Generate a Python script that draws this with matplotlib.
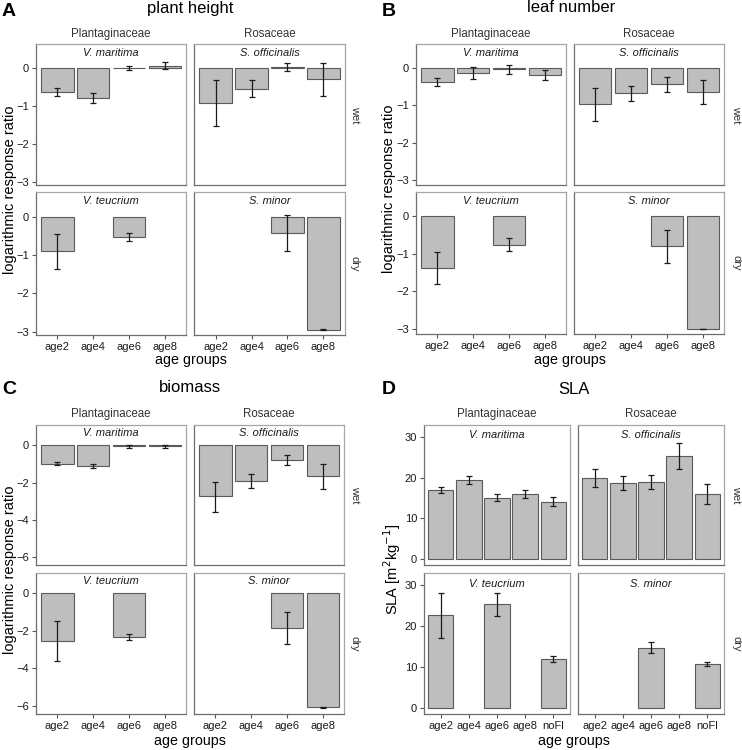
import matplotlib.pyplot as plt
import numpy as np

plt.rcParams["font.family"] = ["Liberation Sans", "DejaVu Sans"]

W, H = 742, 750
nan = np.nan

ages4 = ["age2", "age4", "age6", "age8"]
ages5 = ["age2", "age4", "age6", "age8", "noFl"]
families = ["Plantaginaceae", "Rosaceae"]
conditions = ["wet", "dry"]
# facet order: wet/Plantaginaceae, wet/Rosaceae, dry/Plantaginaceae, dry/Rosaceae
species = ["V. maritima", "S. officinalis", "V. teucrium", "S. minor"]

# plant height (log response ratio): mean, lower, upper
height_mean = [[-0.63, -0.79, 0.01, 0.07], [-0.93, -0.54, 0.03, -0.29],
               [-0.89, nan, -0.53, nan], [nan, nan, -0.42, -2.95]]
height_lo = [[-0.73, -0.93, -0.05, -0.03], [-1.54, -0.76, -0.07, -0.74],
             [-1.36, nan, -0.63, nan], [nan, nan, -0.91, -2.96]]
height_hi = [[-0.53, -0.65, 0.07, 0.17], [-0.32, -0.32, 0.13, 0.15],
             [-0.45, nan, -0.43, nan], [nan, nan, 0.05, -2.94]]

# leaf number
leaf_mean = [[-0.38, -0.14, -0.04, -0.20], [-0.97, -0.68, -0.44, -0.65],
             [-1.38, nan, -0.77, nan], [nan, nan, -0.81, -3.00]]
leaf_lo = [[-0.48, -0.30, -0.17, -0.33], [-1.42, -0.88, -0.64, -0.98],
           [-1.81, nan, -0.94, nan], [nan, nan, -1.26, -3.01]]
leaf_hi = [[-0.28, 0.01, 0.08, -0.07], [-0.55, -0.50, -0.26, -0.33],
           [-0.96, nan, -0.60, nan], [nan, nan, -0.37, -2.99]]

# biomass
biomass_mean = [[-0.99, -1.12, -0.06, -0.06], [-2.74, -1.92, -0.77, -1.67],
                [-2.52, nan, -2.33, nan], [nan, nan, -1.82, -6.08]]
biomass_lo = [[-1.07, -1.24, -0.14, -0.16], [-3.57, -2.30, -1.04, -2.35],
              [-3.60, nan, -2.50, nan], [nan, nan, -2.67, -6.09]]
biomass_hi = [[-0.91, -1.00, 0.02, 0.04], [-1.95, -1.53, -0.50, -1.02],
              [-1.46, nan, -2.14, nan], [nan, nan, -0.97, -6.07]]

# SLA [m2 kg-1]
sla_mean = [[17.0, 19.4, 15.0, 15.9, 14.1], [19.9, 18.7, 18.9, 25.3, 16.0],
            [22.6, nan, 25.3, nan, 11.9], [nan, nan, 14.6, nan, 10.7]]
sla_lo = [[16.2, 18.4, 14.2, 15.0, 13.0], [17.8, 16.9, 17.2, 22.2, 13.6],
          [17.0, nan, 22.4, nan, 11.3], [nan, nan, 13.3, nan, 10.2]]
sla_hi = [[17.8, 20.5, 15.9, 16.9, 15.3], [22.1, 20.5, 20.6, 28.5, 18.4],
          [28.1, nan, 28.2, nan, 12.6], [nan, nan, 16.1, nan, 11.3]]

fig = plt.figure(figsize=(W / 100, H / 100), dpi=100)


def rect(x0, y0, x1, y1):
    return [x0 / W, 1 - y1 / H, (x1 - x0) / W, (y1 - y0) / H]


def ftext(x, y, s, **kw):
    fig.text(x / W, 1 - y / H, s, ha="center", va="center", **kw)


panels = [
    dict(letter="A", title="plant height", ox=0, oy=0, mean=height_mean, lo=height_lo,
         hi=height_hi, cats=ages4, ylim=(-3.09, 0.64), yticks=[0, -1, -2, -3],
         ylabel="logarithmic response ratio", cols=[(36, 186), (194, 345)],
         rows=[(44, 185), (192, 335)], letter_x=9, letter_y=12, title_x=190, title_y=8,
         strip_y=34, tick_y=345, xlab_y=360, ylab_x=10, row_x=355, sp_y=0.935),
    dict(letter="B", title="leaf number", ox=371, oy=0, mean=leaf_mean, lo=leaf_lo,
         hi=leaf_hi, cats=ages4, ylim=(-3.13, 0.63), yticks=[0, -1, -2, -3],
         ylabel="logarithmic response ratio", cols=[(45, 195), (203, 353)],
         rows=[(44, 185), (192, 334)], letter_x=18, letter_y=12, title_x=200, title_y=8,
         strip_y=34, tick_y=345, xlab_y=360, ylab_x=18, row_x=365, sp_y=0.935),
    dict(letter="C", title="biomass", ox=0, oy=375, mean=biomass_mean, lo=biomass_lo,
         hi=biomass_hi, cats=ages4, ylim=(-6.43, 1.09), yticks=[0, -2, -4, -6],
         ylabel="logarithmic response ratio", cols=[(36, 186), (194, 344)],
         rows=[(50, 190), (198, 339)], letter_x=9, letter_y=15, title_x=190, title_y=13,
         strip_y=39, tick_y=350, xlab_y=366, ylab_x=10, row_x=355, sp_y=0.94),
    dict(letter="D", title="SLA", ox=371, oy=375, mean=sla_mean, lo=sla_lo,
         hi=sla_hi, cats=ages5, ylim=(-1.56, 33.0), yticks=[0, 10, 20, 30],
         ylabel=r"SLA [m$^{2}$kg$^{-1}$]", cols=[(53, 199), (207, 353)],
         rows=[(50, 190), (198, 339)], letter_x=18, letter_y=15, title_x=203, title_y=14,
         strip_y=39, tick_y=350, xlab_y=366, ylab_x=21, row_x=365, sp_y=0.925),
]

TXT = "#1a1a1a"
for p in panels:
    ox, oy = p["ox"], p["oy"]
    n = len(p["cats"])
    x = np.arange(1, n + 1)
    ftext(ox + p["letter_x"], oy + p["letter_y"], p["letter"], fontsize=14,
          fontweight="bold", color="black")
    ftext(ox + p["title_x"], oy + p["title_y"], p["title"], fontsize=12, color="black")
    for j, fam in enumerate(families):
        c0, c1 = p["cols"][j]
        ftext(ox + (c0 + c1) / 2, oy + p["strip_y"], fam, fontsize=8.3, color="#333333")
    for i, cond in enumerate(conditions):
        r0, r1 = p["rows"][i]
        ftext(ox + p["row_x"], oy + (r0 + r1) / 2, cond, fontsize=8,
              color="#333333", rotation=270)
        for j in range(2):
            c0, c1 = p["cols"][j]
            k = i * 2 + j
            ax = fig.add_axes(rect(ox + c0, oy + r0, ox + c1, oy + r1))
            m = np.array(p["mean"][k], dtype=float)
            lo = np.array(p["lo"][k], dtype=float)
            hi = np.array(p["hi"][k], dtype=float)
            ok = ~np.isnan(m)
            ax.bar(x[ok], m[ok], width=0.9, color="#bebebe", edgecolor="#5a5a5a",
                   linewidth=0.8, zorder=2)
            ax.errorbar(x[ok], m[ok], yerr=[m[ok] - lo[ok], hi[ok] - m[ok]], fmt="none",
                        ecolor="#1a1a1a", elinewidth=0.9, capsize=1.9, capthick=0.9,
                        zorder=3)
            ax.set_xlim(0.4, n + 0.6)
            ax.set_ylim(*p["ylim"])
            ax.text(0.5, p["sp_y"], species[k], transform=ax.transAxes, ha="center",
                    va="center", fontsize=8, style="italic", color=TXT)
            for side in ["top", "right"]:
                ax.spines[side].set_color("#a6a6a6")
                ax.spines[side].set_linewidth(0.9)
            for side in ["left", "bottom"]:
                ax.spines[side].set_color("#6e6e6e")
                ax.spines[side].set_linewidth(0.9)
            ax.tick_params(length=3, width=0.8, color="#555555", labelsize=8,
                           labelcolor=TXT, pad=2)
            ax.set_yticks(p["yticks"])
            ax.set_yticklabels([str(v).replace("-", "\u2212") for v in p["yticks"]])
            ax.set_xticks(x)
            ax.set_xticklabels(p["cats"])
            if j == 1:
                ax.tick_params(axis="y", left=False, labelleft=False)
            if i == 0:
                ax.tick_params(axis="x", bottom=False, labelbottom=False)
    ftext(ox + (p["cols"][0][0] + p["cols"][1][1]) / 2, oy + p["xlab_y"], "age groups",
          fontsize=10.3, color="black")
    ftext(ox + p["ylab_x"], oy + (p["rows"][0][0] + p["rows"][1][1]) / 2, p["ylabel"],
          fontsize=10.5, color="black", rotation=90)

fig.savefig("out.png", dpi=100)
